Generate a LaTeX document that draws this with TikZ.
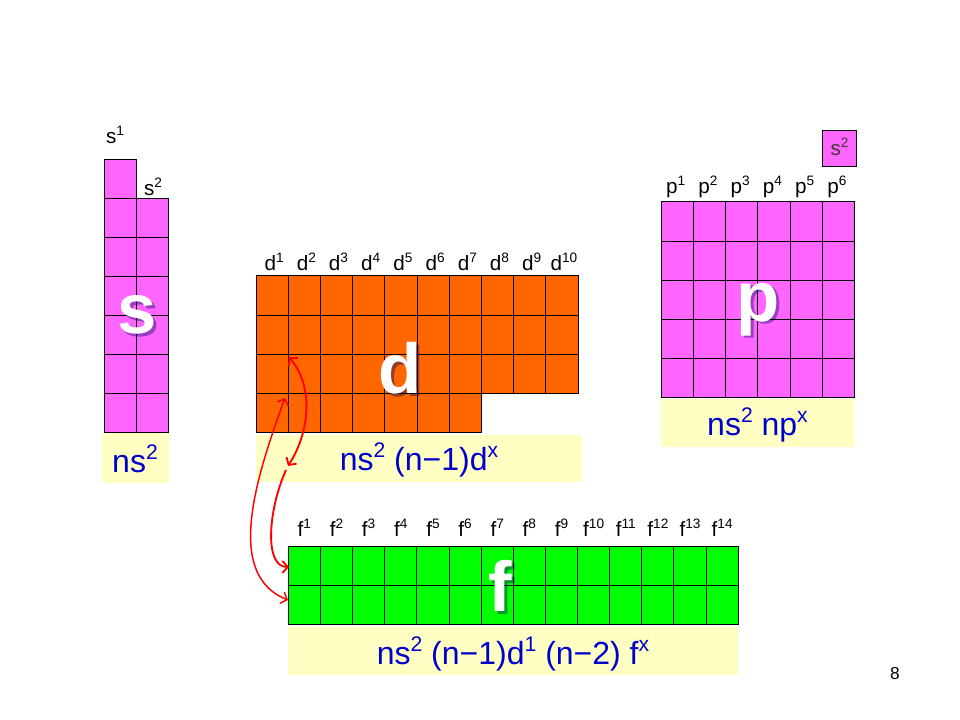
\documentclass[tikz,border=0pt]{standalone}
\usepackage{fontspec}
\setmainfont{Liberation Sans}
\usepackage{graphicx}
\usetikzlibrary{arrows.meta}
\definecolor{smag}{HTML}{FF66FF}
\definecolor{dor}{HTML}{FF6600}
\definecolor{fgr}{HTML}{00FF00}
\definecolor{ylw}{HTML}{FFFFC4}
\definecolor{cfgblue}{HTML}{0000CC}
\newcommand{\up}[1]{\raisebox{0.4em}{\scalebox{0.66}{#1}}}
\begin{document}
\begin{tikzpicture}[x=0.75pt,y=-0.75pt,
  cell/.style={draw=black, line width=0.75pt},
  ybox/.style={fill=ylw},
  lbl/.style={font=\fontsize{15.5}{17}\selectfont, anchor=base, inner sep=0pt},
  cfg/.style={font=\fontsize{24}{28}\selectfont, text=cfgblue, anchor=base, inner sep=0pt},
  big/.style={font=\fontsize{53}{60}\selectfont\bfseries, text=white, anchor=base, inner sep=0pt},
  shad/.style={big, text=black!60!blue, text opacity=0.4},
  redarr/.style={draw=red, line width=1.4pt, >={Straight Barb[length=4pt,width=9pt]}}
]
\useasboundingbox (0,0) rectangle (960,720);

% configuration boxes
\fill[ybox] (101.7,433) rectangle (169,482.7);
\fill[ybox] (256,435) rectangle (582,482);
\fill[ybox] (661,399) rectangle (854,446.7);
\fill[ybox] (288,627) rectangle (738,675);

% s block
\foreach \j in {0,...,6} \draw[cell, fill=smag] (104,{159.5+39*\j}) rectangle ++(32,39);
\foreach \j in {1,...,6} \draw[cell, fill=smag] (136,{159.5+39*\j}) rectangle ++(32.5,39);

% d block
\foreach \i in {0,...,9} \foreach \j in {0,1,2}
  \draw[cell, fill=dor] ({256+32.2*\i},{276+39.1*\j}) rectangle ++(32.2,39.1);
\foreach \i in {0,...,6}
  \draw[cell, fill=dor] ({256+32.2*\i},{276+39.1*3}) rectangle ++(32.2,39.1);

% p block
\foreach \i in {0,...,5} \foreach \j in {0,...,4}
  \draw[cell, fill=smag] ({661+32.25*\i},{202+39.1*\j}) rectangle ++(32.25,39.1);

% f block
\foreach \i in {0,...,13} \foreach \j in {0,1}
  \draw[cell, fill=fgr] ({288.3+32.14*\i},{546+39.25*\j}) rectangle ++(32.14,39.25);

% small s2 box
\draw[cell, fill=smag] (822.3,131) rectangle (856.7,166.7);
\node[lbl, text=black!85!magenta] (s2box) at (839.5,156) {s\up{2}};

% labels
\node[lbl] (ls1) at (115,143.3) {s\up{1}};
\node[lbl] (ls2) at (153,196) {s\up{2}};
\foreach \i in {1,...,10}
  \node[lbl] (ld\i) at ({256+32.2*(\i-0.5)+2},270.5) {d\up{\i}};
\foreach \i in {1,...,6}
  \node[lbl] (lp\i) at ({661+32.25*(\i-0.5)-1.5},193.5) {p\up{\i}};
\foreach \i in {1,...,14}
  \node[lbl] (lf\i) at ({288.3+32.14*(\i-0.5)},536.5) {f\up{\i}};

% configurations
\node[cfg] (sconf) at (135,472) {ns\up{2}};
\node[cfg] (dconf) at (419,470) {ns\up{2} (n−1)d\up{x}};
\node[cfg] (pconf) at (757.5,435) {ns\up{2} np\up{x}};
\node[cfg] (fconf) at (513,664) {ns\up{2} (n−1)d\up{1} (n−2) f\up{x}};

% big block letters with shadow
\node[shad] (shs) at (140.5,336) {s};
\node[big] (bs) at (137.5,333) {s};
\node[shad] (shd) at (403,396) {d};
\node[big] (bd) at (400,393) {d};
\node[shad] (shp) at (761,324) {p};
\node[big] (bp) at (758,321) {p};
\node[shad] (shf) at (503,614) {f};
\node[big] (bf) at (500,611) {f};

% red arrows
\coordinate (a1) at (289,357);
\coordinate (a2) at (288,466);
\coordinate (a3) at (286,470);
\coordinate (a4) at (289,567);
\coordinate (b1) at (285,398);
\coordinate (b2) at (288,600);
\draw[redarr, <->] (a1) .. controls (313,385) and (311,430) .. (a2);
\draw[redarr, ->] (a3) .. controls (268,510) and (264,567) .. (a4);
\draw[redarr, line width=1.1pt, <->] (b1) .. controls (255,480) and (225,575) .. (b2);

% page number
\node[lbl, font=\fontsize{13}{15}\selectfont] (pg) at (895,679) {8};
\end{tikzpicture}
\end{document}
